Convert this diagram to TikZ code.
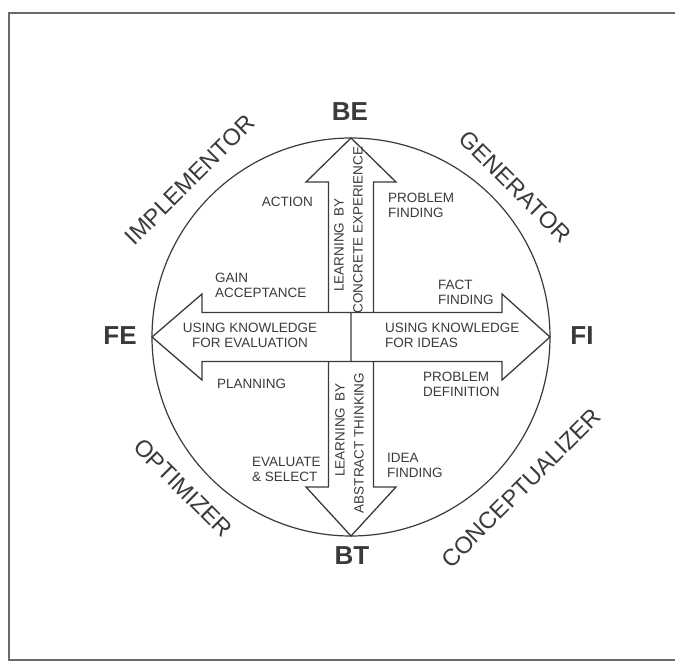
\documentclass[tikz,border=0pt]{standalone}
\usepackage{fontspec}
\setmainfont{Liberation Sans}
\definecolor{ink}{HTML}{3A3A3A}
\definecolor{frame}{HTML}{6A6A6A}
\begin{document}
\begin{tikzpicture}[x=1pt,y=-1pt,
  ln/.style={draw=ink, line width=1.3pt, line join=miter},
  small/.style={font=\fontsize{13.5}{15}\selectfont, text=ink, inner sep=0pt},
  role/.style={font=\fontsize{23.5}{26}\selectfont, text=ink, inner sep=0pt},
  pole/.style={font=\bfseries\fontsize{26}{28}\selectfont, text=ink, inner sep=0pt}]
\useasboundingbox (0,0) rectangle (675,664);
% frame
\draw[frame, line width=2pt] (675,13) -- (9,13) -- (9,660) -- (675,660);
% circle
\coordinate (C) at (351,337);
\draw[ln, line width=1.2pt] (C) circle [radius=199pt];
% arrows
\draw[ln] (328.5,312.5) -- (328.5,182) -- (306,182) -- (351,138) -- (396,182) -- (373.5,182) -- (373.5,312.5);
\draw[ln] (328.5,361.5) -- (328.5,487) -- (306,487) -- (351,536) -- (396,487) -- (373.5,487) -- (373.5,361.5);
\draw[ln] (351,312.5) -- (202,312.5) -- (202,294) -- (152,337) -- (202,380) -- (202,361.5) -- (351,361.5) -- cycle;
\draw[ln] (351,312.5) -- (502,312.5) -- (502,294) -- (550,337) -- (502,380) -- (502,361.5) -- (351,361.5);
% poles
\node[pole] (be) at (350,112) {BE};
\node[pole] (bt) at (352,556) {BT};
\node[pole] (fe) at (120,336) {FE};
\node[pole] (fi) at (582,336) {FI};
% roles
\node[role, rotate=45] (impl) at (190,180) {IMPLEMENTOR};
\node[role, rotate=-45] (gen) at (515,187) {GENERATOR};
\node[role, rotate=-45] (opt) at (183,488) {OPTIMIZER};
\node[role, rotate=45] (conc) at (521,488) {CONCEPTUALIZER};
% arrow texts
\node[small, rotate=90] (lb1) at (339,245) {LEARNING\hspace{6pt}BY};
\node[small, rotate=90] (ce) at (358,230) {CONCRETE EXPERIENCE};
\node[small, rotate=90] (lb2) at (340,430) {LEARNING\hspace{6pt}BY};
\node[small, rotate=90] (at) at (359,443) {ABSTRACT THINKING};
\node[small, align=center, anchor=north] (ukfe) at (250,323) {USING KNOWLEDGE\\FOR EVALUATION};
\node[small, align=left, anchor=north west] (ukfi) at (385,323) {USING KNOWLEDGE\\FOR IDEAS};
% quadrant texts
\node[small, anchor=north east] (action) at (313,197) {ACTION};
\node[small, align=left, anchor=north west] (pf) at (388,193) {PROBLEM\\FINDING};
\node[small, align=left, anchor=north west] (ga) at (215,273) {GAIN\\ACCEPTANCE};
\node[small, align=left, anchor=north west] (ff) at (438,280) {FACT\\FINDING};
\node[small, anchor=north west] (plan) at (217,379) {PLANNING};
\node[small, align=left, anchor=north west] (pd) at (423,372) {PROBLEM\\DEFINITION};
\node[small, align=left, anchor=north west] (es) at (252,457) {EVALUATE\\\& SELECT};
\node[small, align=left, anchor=north west] (if) at (387,453) {IDEA\\FINDING};
\end{tikzpicture}
\end{document}
